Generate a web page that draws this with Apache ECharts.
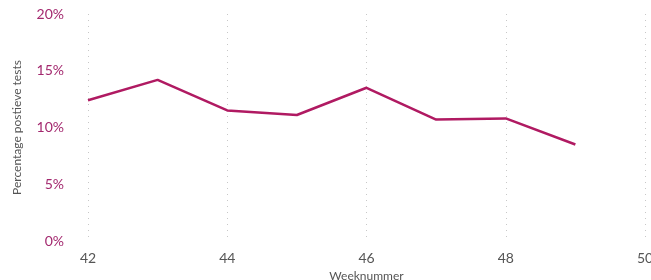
<!DOCTYPE html>
<html>
<head>
<meta charset="utf-8">
<style>
  html, body { margin: 0; padding: 0; background: #fff; }
  #chart { width: 651px; height: 280px; }
</style>
<script src="https://cdn.jsdelivr.net/npm/echarts@6/dist/echarts.min.js"></script>
</head>
<body>
<div id="chart"></div>
<script>
// weken en percentage positieve tests
const weeks = [42, 43, 44, 45, 46, 47, 48, 49];
const positivePct = [12.4, 14.2, 11.5, 11.1, 13.5, 10.7, 10.8, 8.5];
const yTicks = [0, 5, 10, 15, 20];

const chart = echarts.init(document.getElementById('chart'));

chart.setOption({
  animation: false,
  grid: { left: 88, right: 6, top: 14, bottom: 39, outerBoundsMode: 'none', containLabel: false },
  xAxis: {
    type: 'value',
    min: 42,
    max: 50,
    interval: 2,
    name: 'Weeknummer',
    nameLocation: 'middle',
    nameGap: 25,
    nameTextStyle: { color: '#555', fontSize: 12, fontFamily: 'Lato' },
    axisLine: { show: false },
    axisTick: { show: false },
    axisLabel: { color: '#555', fontSize: 14, fontFamily: 'Lato', margin: 10 },
    splitLine: { show: true, lineStyle: { color: '#c8c8c8', type: [1, 5], width: 1 } }
  },
  yAxis: {
    type: 'value',
    min: yTicks[0],
    max: yTicks[yTicks.length - 1],
    interval: 5,
    name: 'Percentage postieve tests',
    nameLocation: 'middle',
    nameGap: 65,
    nameTextStyle: { color: '#555', fontSize: 12, fontFamily: 'Lato' },
    axisLine: { show: false },
    axisTick: { show: false },
    axisLabel: {
      color: '#a3286e', fontSize: 14, fontFamily: 'Lato', margin: 24,
      formatter: v => v + '%'
    },
    splitLine: { show: false }
  },
  series: [{
    type: 'line',
    data: weeks.map((w, i) => [w, positivePct[i]]),
    showSymbol: false,
    lineStyle: { color: '#b01a62', width: 2.5 },
    itemStyle: { color: '#b01a62' }
  }]
});
</script>
</body>
</html>
